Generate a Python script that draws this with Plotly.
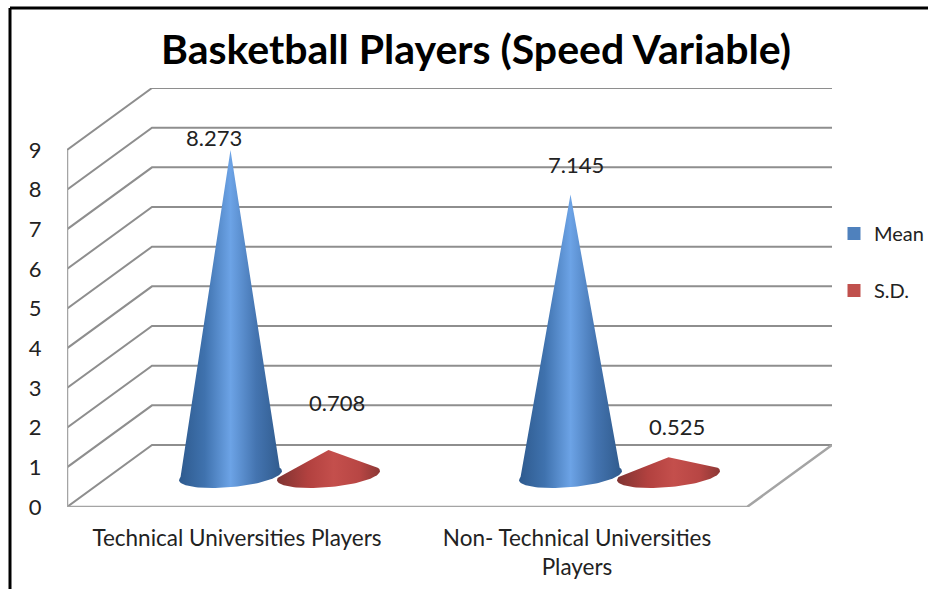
import numpy as np
import plotly.graph_objects as go

# ---- data ----
title = "Basketball Players (Speed Variable)"
categories = ["Technical Universities Players", "Non- Technical Universities<br>Players"]
mean_values = [8.273, 7.145]
sd_values = [0.708, 0.525]
y_ticks = [0, 1, 2, 3, 4, 5, 6, 7, 8, 9]

# ---- layout constants ----
W, H = 928, 589
PX_X, PX_V = 340.0, 39.67            # pixels per category / per value unit
DEPTH_X, DEPTH_V = 85 / PX_X, 62 / PX_V
X_MAX, Y_MAX = 2 + DEPTH_X, 9 + DEPTH_V
FONT = "Lato, Carlito, Calibri, sans-serif"
TXT = "#222222"

BLUE = [[0, "#2e5a8e"], [0.25, "#3f72ae"], [0.5, "#6ca3e6"], [0.75, "#4474b0"], [1, "#2f5a8c"]]
RED = [[0, "#7f3331"], [0.3, "#b2413f"], [0.55, "#c44f4c"], [0.8, "#b84644"], [1, "#8c3735"]]


def cone(cx, value):
    """Outline of a cone: apex from the value, tilted elliptical base with rounded rims."""
    a = 51.5 / PX_X
    base = 31.5 / PX_V
    t = np.linspace(np.pi + 0.3, -0.3, 70)
    ex = cx + a * np.cos(t)
    ey = base + (4.5 * np.cos(t) - 11.7 * np.sin(t)) / PX_V
    return [cx, *ex, cx], [0.73 + value, *ey, 0.73 + value]


fig = go.Figure()

# 3-D box: gridlines, walls, floor
gx, gy = [], []
for v in y_ticks:
    gx += [0, DEPTH_X, X_MAX, None]
    gy += [v, v + DEPTH_V, v + DEPTH_V, None]
fig.add_trace(go.Scatter(x=gx, y=gy, mode="lines", line=dict(color="#8e8e8e", width=2),
                         showlegend=False, hoverinfo="skip", cliponaxis=False))
fig.add_trace(go.Scatter(x=[0, 0, None, 0, 2, DEPTH_X + 2],
                         y=[y_ticks[-1], 0, None, 0, 0, DEPTH_V],
                         mode="lines", line=dict(color="#a4a4a4", width=2.5),
                         showlegend=False, hoverinfo="skip", cliponaxis=False))

# Cones
annotations = []
label_shift = {("m", 0): (-17, 12), ("m", 1): (5, 30), ("s", 0): (8, 47), ("s", 1): (8, 31)}
for key, vals, sign, grad in (("s", sd_values, 1, RED), ("m", mean_values, -1, BLUE)):
    for i, v in enumerate(vals):
        cx = i + 0.5 + DEPTH_X / 2 + sign * 49 / PX_X
        xs, ys = cone(cx, v)
        fig.add_trace(go.Scatter(x=xs, y=ys, mode="lines", line=dict(width=0),
                                 fill="toself",
                                 fillgradient=dict(type="horizontal", colorscale=grad),
                                 showlegend=False, hoverinfo="skip", cliponaxis=False))
        dx, dy = label_shift[(key, i)]
        annotations.append(dict(x=cx, y=0.73 + v, text=f"{v:.3f}", showarrow=False,
                                xshift=dx, yshift=dy, xanchor="center", yanchor="middle",
                                font=dict(family=FONT, size=22, color=TXT)))

# Legend entries
for name, col in (("Mean", "#4f81bd"), ("S.D.", "#c0504d")):
    fig.add_trace(go.Scatter(x=[None], y=[None], mode="markers", name=name, legendgroup=name,
                             marker=dict(symbol="square", size=13, color=col)))

frame = dict(type="line", xref="paper", yref="paper", line=dict(color="black", width=3))
fig.update_layout(
    width=W, height=H, autosize=False,
    margin=dict(l=0, r=0, t=0, b=0, autoexpand=False),
    paper_bgcolor="white", plot_bgcolor="rgba(0,0,0,0)",
    title=dict(text=f"<b>{title}</b>", x=476 / W, y=1 - 50 / H, xanchor="center", yanchor="middle",
               font=dict(family=FONT, size=41, color="black")),
    xaxis=dict(domain=[67 / W, 832 / W], range=[0, X_MAX],
               tickvals=[0.5, 1.5], ticktext=categories,
               showgrid=False, zeroline=False, showline=False,
               ticks="outside", ticklen=11, tickcolor="rgba(0,0,0,0)",
               tickfont=dict(family=FONT, size=22.5, color=TXT)),
    yaxis=dict(domain=[(H - 507) / H, (H - 88) / H], range=[0, Y_MAX],
               tickvals=y_ticks, showgrid=False, zeroline=False, showline=False,
               ticks="outside", ticklen=20, tickcolor="rgba(0,0,0,0)",
               tickfont=dict(family=FONT, size=22, color=TXT)),
    legend=dict(x=834 / W, y=1 - 214 / H, xanchor="left", yanchor="top",
                tracegroupgap=28, bgcolor="rgba(0,0,0,0)",
                font=dict(family=FONT, size=20, color=TXT)),
    annotations=annotations,
    shapes=[dict(frame, x0=10 / W, x1=10 / W, y0=0, y1=1 - 8 / H),
            dict(frame, x0=10 / W, x1=1, y0=1 - 8 / H, y1=1 - 8 / H)],
    showlegend=True,
)

fig.write_html("out.html", config={"displayModeBar": False},
               post_script="document.body.style.margin='0';document.body.style.overflow='hidden';")
